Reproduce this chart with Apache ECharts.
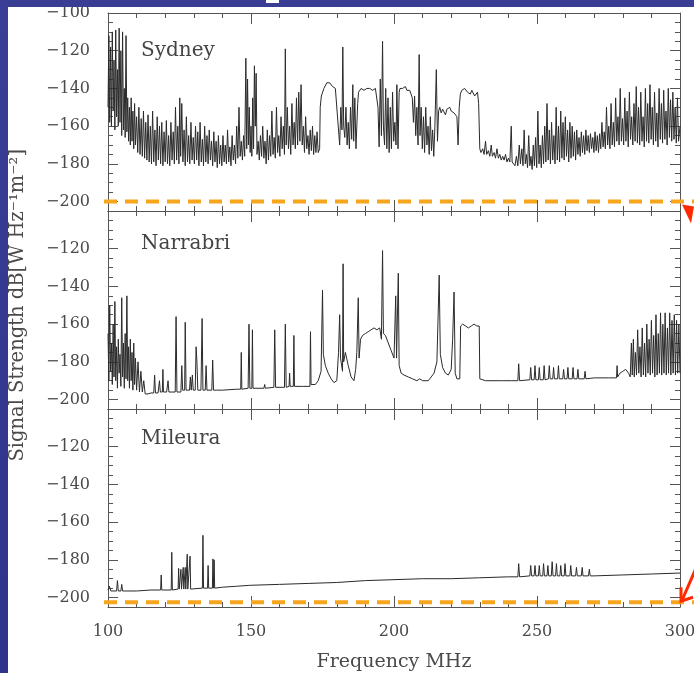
<!DOCTYPE html>
<html><head><meta charset="utf-8">
<script src="https://cdn.jsdelivr.net/npm/echarts@6/dist/echarts.min.js"></script>
<style>
html,body{margin:0;padding:0;width:694px;height:673px;overflow:hidden;background:#393d94}
#white{position:absolute;left:8px;top:7px;width:686px;height:666px;background:#fff}
#chart{position:absolute;left:0;top:0;width:694px;height:673px}
#topstrip{position:absolute;left:0;top:0;width:694px;height:7px;background:#393d94;z-index:10}
#leftstrip{position:absolute;left:0;top:0;width:8px;height:673px;background:linear-gradient(#3a3e96,#30338c);z-index:10}
#mark{position:absolute;left:266px;top:0;width:13px;height:3px;background:#fff;z-index:11}
</style></head><body>
<div id="white"></div><div id="chart"></div><div id="topstrip"></div><div id="leftstrip"></div><div id="mark"></div>
<script>
const panelNames = ['Sydney', 'Narrabri', 'Mileura'];
const xTitle = 'Frequency MHz';
const yTitle = 'Signal Strength dB[W Hz\u207B\u00B9m\u207B\u00B2]';

const sydney = [
[100.0,-150],[100.3,-112],[100.6,-158],[100.9,-118],[101.2,-160],[101.5,-110],[101.8,-152],[102.1,-125],[102.4,-162],[102.7,-109],
[103.0,-155],[103.3,-130],[103.6,-160],[103.9,-108],[104.2,-158],[104.5,-120],[104.8,-165],[105.1,-110],[105.4,-162],[105.7,-140],
[106.0,-166],[106.3,-112],[106.6,-163],[106.9,-145],[107.2,-168],[107.5,-150],[107.8,-170],[108.1,-145],[108.4,-168],[108.7,-152],
[109.0,-172],[109.3,-148],[109.6,-170],[110.0,-155],[110.4,-174],[110.8,-150],[111.2,-175],[111.6,-156],[112.0,-176],[112.4,-152],
[112.8,-177],[113.2,-158],[113.6,-178],[114.0,-154],[114.4,-179],[114.8,-160],[115.2,-180],[115.6,-152],[116.0,-179],[116.4,-162],
[116.8,-181],[117.2,-155],[117.6,-178],[118.0,-160],[118.4,-180],[118.8,-158],[119.2,-181],[119.6,-163],[120.0,-179],[120.4,-157],
[120.8,-180],[121.2,-165],[121.6,-181],[122.0,-158],[122.4,-178],[122.8,-163],[123.2,-180],[123.6,-150],[124.0,-178],[124.4,-160],
[124.8,-180],[125.1,-145],[125.4,-176],[125.8,-148],[126.2,-179],[126.6,-162],[127.0,-181],[127.4,-155],[127.8,-179],[128.2,-165],
[128.6,-180],[129.0,-158],[129.4,-178],[129.8,-166],[130.2,-180],[130.6,-160],[131.0,-178],[131.4,-163],[131.8,-181],[132.2,-158],
[132.6,-179],[133.0,-167],[133.4,-181],[133.8,-160],[134.2,-179],[134.6,-165],[135.0,-180],[135.4,-162],[135.8,-178],[136.2,-168],
[136.6,-181],[137.0,-163],[137.4,-179],[137.8,-168],[138.2,-182],[138.6,-165],[139.0,-180],[139.4,-170],[139.8,-181],[140.2,-165],
[140.6,-179],[141.0,-170],[141.4,-180],[141.8,-162],[142.2,-179],[142.6,-171],[143.0,-181],[143.4,-165],[143.8,-178],[144.2,-170],
[144.6,-180],[145.0,-160],[145.4,-177],[145.8,-150],[146.2,-176],[146.6,-168],[147.0,-178],[147.4,-165],[147.8,-176],[148.2,-124],
[148.5,-172],[148.8,-135],[149.1,-170],[149.4,-150],[149.7,-174],[150.0,-160],[150.3,-176],[150.6,-145],[150.9,-172],[151.2,-128],
[151.5,-160],[151.8,-132],[152.1,-175],[152.5,-168],[152.9,-178],[153.3,-165],[153.7,-176],[154.1,-160],[154.5,-177],[154.9,-168],
[155.3,-180],[155.7,-162],[156.1,-178],[156.5,-165],[156.9,-176],[157.3,-152],[157.7,-175],[158.1,-166],[158.5,-177],[158.9,-150],
[159.3,-174],[159.7,-165],[160.1,-176],[160.5,-155],[160.9,-172],[161.3,-160],[161.7,-175],[162.0,-119],[162.3,-170],[162.7,-150],
[163.1,-172],[163.5,-160],[163.9,-175],[164.3,-148],[164.7,-170],[165.1,-158],[165.5,-172],[165.9,-145],[166.3,-170],[166.7,-142],
[167.1,-168],[167.5,-138],[167.9,-170],[168.3,-160],[168.7,-174],[169.1,-155],[169.5,-172],[169.9,-165],[170.3,-175],[170.7,-162],
[171.1,-173],[171.5,-160],[171.9,-175],[172.3,-165],[172.7,-174],[173.1,-163],[173.5,-174],[174.0,-172],[174.2,-150],[174.6,-144],
[175.0,-143],[175.5,-140],[176.0,-139],[176.5,-137],[177.0,-136],[177.5,-137],[178.0,-138],[178.5,-139],[179.0,-140],[179.5,-140],
[180.0,-141],[180.5,-160],[181.0,-170],[181.4,-150],[181.8,-162],[182.1,-118],[182.4,-160],[182.8,-166],[183.2,-150],[183.6,-170],
[184.0,-158],[184.4,-172],[184.8,-150],[185.2,-167],[185.6,-138],[185.9,-168],[186.3,-145],[186.7,-172],[187.0,-160],[187.3,-148],
[187.6,-142],[188.0,-141],[188.5,-140],[189.0,-140],[189.5,-141],[190.0,-140],[190.5,-140],[191.0,-139],[191.5,-140],[192.0,-140],
[192.5,-141],[193.0,-140],[193.5,-140],[194.0,-141],[194.4,-150],[194.8,-171],[195.2,-135],[195.6,-165],[196.0,-115],[196.3,-160],
[196.7,-170],[197.1,-140],[197.5,-172],[197.9,-145],[198.3,-174],[198.7,-150],[199.1,-172],[199.5,-142],[199.9,-168],[200.3,-158],
[200.7,-170],[201.0,-138],[201.4,-172],[201.8,-142],[202.1,-140],[202.5,-139],[203.0,-140],[203.5,-140],[204.0,-139],[204.5,-141],
[205.0,-140],[205.5,-141],[206.0,-140],[206.4,-145],[206.8,-158],[207.2,-144],[207.6,-165],[208.0,-150],[208.4,-170],[208.8,-122],
[209.1,-165],[209.5,-150],[209.9,-172],[210.3,-155],[210.7,-174],[211.1,-150],[211.5,-170],[211.9,-160],[212.3,-175],[212.7,-155],
[213.1,-173],[213.5,-162],[213.9,-176],[214.3,-160],[214.8,-130],[215.2,-168],[215.6,-152],[216.0,-150],[216.5,-153],[217.0,-151],
[217.5,-152],[218.0,-154],[218.5,-151],[219.0,-152],[219.5,-150],[220.0,-152],[220.5,-151],[221.0,-153],[221.5,-152],[222.0,-155],
[222.4,-170],[222.8,-150],[223.2,-143],[223.7,-141],[224.2,-142],[224.7,-140],[225.2,-141],[225.7,-142],[226.2,-141],[226.7,-143],
[227.2,-141],[227.7,-142],[228.2,-144],[228.7,-143],[229.2,-142],[229.6,-148],[230.0,-172],[230.4,-174],[231.0,-172],[231.5,-175],
[232.0,-168],[232.4,-175],[233.0,-173],[233.5,-176],[234.0,-170],[234.4,-176],[235.0,-174],[235.5,-177],[236.0,-172],[236.5,-177],
[237.0,-175],[237.5,-178],[238.0,-176],[238.5,-178],[239.0,-175],[239.5,-179],[240.0,-177],[240.5,-179],[241.0,-160],[241.3,-179],
[241.8,-178],[242.3,-181],[242.8,-176],[243.3,-181],[243.8,-170],[244.2,-180],[244.7,-172],[245.1,-181],[245.5,-162],[245.9,-180],
[246.3,-175],[246.7,-182],[247.1,-165],[247.5,-181],[247.9,-176],[248.3,-183],[248.7,-170],[249.1,-181],[249.5,-166],[249.9,-182],
[250.3,-152],[250.7,-180],[251.1,-170],[251.5,-182],[251.9,-165],[252.3,-180],[252.7,-160],[253.1,-179],[253.5,-148],[253.9,-178],
[254.3,-162],[254.7,-180],[255.1,-158],[255.5,-178],[255.9,-165],[256.3,-180],[256.7,-150],[257.1,-178],[257.5,-160],[257.9,-179],
[258.3,-152],[258.7,-177],[259.1,-158],[259.5,-178],[259.9,-155],[260.3,-176],[260.7,-162],[261.1,-179],[261.5,-158],[261.9,-177],
[262.3,-160],[262.7,-176],[263.1,-163],[263.5,-178],[263.9,-162],[264.3,-175],[264.7,-166],[265.1,-176],[265.5,-163],[265.9,-174],
[266.3,-165],[266.7,-175],[267.1,-162],[267.5,-173],[267.9,-165],[268.3,-174],[268.7,-164],[269.1,-172],[269.5,-166],[269.9,-174],
[270.3,-163],[270.7,-173],[271.1,-165],[271.5,-174],[271.9,-164],[272.3,-172],[272.7,-158],[273.1,-171],[273.5,-163],[273.9,-172],
[274.3,-150],[274.7,-170],[275.1,-160],[275.5,-172],[275.9,-148],[276.3,-170],[276.7,-158],[277.1,-171],[277.5,-145],[277.9,-168],
[278.3,-155],[278.7,-170],[279.1,-140],[279.5,-168],[279.9,-156],[280.3,-170],[280.7,-145],[281.1,-168],[281.5,-152],[281.9,-171],
[282.3,-142],[282.7,-167],[283.1,-155],[283.5,-170],[283.9,-148],[284.3,-168],[284.7,-139],[285.1,-169],[285.5,-150],[285.9,-170],
[286.3,-142],[286.7,-168],[287.1,-155],[287.5,-171],[287.9,-140],[288.3,-168],[288.7,-148],[289.1,-169],[289.5,-138],[289.9,-167],
[290.3,-150],[290.7,-170],[291.1,-142],[291.5,-168],[291.9,-153],[292.3,-171],[292.7,-140],[293.1,-167],[293.5,-148],[293.9,-169],
[294.3,-141],[294.7,-167],[295.1,-152],[295.5,-170],[295.9,-140],[296.3,-166],[296.7,-146],[297.1,-168],[297.5,-142],[297.9,-167],
[298.3,-150],[298.7,-169],[299.1,-145],[299.5,-168],[300.0,-160]
];

const narrabri = [
[100.0,-165],[100.3,-190],[100.6,-150],[100.9,-185],[101.2,-170],[101.5,-192],[101.8,-160],[102.1,-188],[102.4,-148],[102.7,-190],
[103.0,-172],[103.3,-194],[103.6,-168],[103.9,-186],[104.2,-176],[104.5,-193],[104.8,-146],[105.1,-188],[105.4,-170],[105.7,-194],
[106.0,-165],[106.3,-189],[106.6,-145],[106.9,-190],[107.2,-172],[107.5,-194],[107.8,-168],[108.1,-190],[108.4,-175],[108.7,-195],
[109.0,-170],[109.3,-192],[109.6,-178],[110.0,-195],[110.5,-180],[111.0,-196],[111.5,-185],[112.0,-196],[112.5,-190],[113.0,-197],
[114.0,-197],[115.0,-196.5],[116.0,-196.5],[116.3,-187],[116.6,-196.5],[117.5,-196.5],[118.0,-190],[118.3,-196],[119.0,-196],[119.2,-184],
[119.4,-196],[120.5,-196],[121.0,-190],[121.3,-196],[123.5,-196],[123.8,-156],[124.1,-196],[125.5,-196],[125.8,-182],[126.1,-195],
[126.8,-195],[127.0,-159],[127.3,-195],[128.5,-195],[128.8,-188],[129.1,-195],[129.5,-187],[129.8,-195],[130.5,-195],[130.8,-172],
[131.1,-180],[131.4,-195],[132.5,-195],[132.9,-157],[133.2,-195],[134.0,-195],[134.3,-182],[134.6,-195],[136.3,-195],[136.6,-179],
[136.9,-195],[138.0,-195],[140.0,-195],[145.0,-194.5],[146.4,-194.5],[146.6,-175],[146.8,-194.5],[149.0,-194],[149.3,-160],[149.6,-194],
[150.3,-194],[150.5,-163],[150.7,-194],[154.5,-194],[154.8,-192],[155.0,-194],[158.0,-193.5],[158.3,-163],[158.6,-193.5],[161.7,-193.5],
[162.0,-160],[162.3,-193.5],[163.3,-193],[163.5,-186],[163.7,-193],[164.8,-193],[165.0,-166],[165.2,-193],[168.0,-193],[170.6,-193],
[170.8,-164],[171.0,-192],[172.5,-192],[173.5,-190],[174.5,-185],[175.0,-142],[175.3,-176],[176.0,-182],[177.0,-186],[178.0,-189],
[179.0,-191],[180.0,-190],[180.6,-175],[181.0,-155],[181.3,-178],[182.0,-185],[182.2,-128],[182.4,-180],[183.0,-175],[184.0,-182],
[185.0,-188],[186.0,-190],[186.6,-184],[187.0,-175],[187.5,-146],[187.8,-178],[188.3,-168],[189.0,-166],[190.0,-165],[191.0,-164],
[192.0,-163],[193.0,-162],[194.0,-163],[195.0,-162],[195.6,-168],[196.0,-121],[196.3,-165],[197.0,-166],[198.0,-170],[199.0,-174],
[200.0,-178],[200.6,-145],[200.9,-178],[201.5,-133],[201.8,-182],[202.5,-186],[203.5,-187],[205.0,-188],[206.5,-189],[208.0,-190],
[209.0,-189],[210.0,-190],[212.0,-190],[213.0,-188],[214.0,-186],[215.0,-180],[215.8,-134],[216.2,-176],[217.0,-183],[218.0,-186],
[219.0,-187],[220.0,-184],[220.5,-168],[221.0,-143],[221.4,-186],[222.0,-189],[223.0,-189],[223.3,-161],[224.0,-160],[225.0,-161],
[226.0,-162],[227.0,-161],[228.0,-160],[229.0,-161],[229.8,-161],[230.0,-189],[232.0,-190],[235.0,-190],[238.0,-190],[241.0,-190],
[243.3,-190],[243.6,-181],[243.9,-190],[247.5,-189.5],[247.8,-183],[248.1,-189.5],[249.0,-189.5],[249.3,-182],[249.6,-189.5],[250.5,-189.5],
[250.8,-183],[251.1,-189.5],[252.2,-189.5],[252.5,-182],[252.8,-189.5],[254.0,-189],[254.3,-182],[254.6,-189],[255.5,-189],[255.8,-183],
[256.1,-189],[257.2,-189],[257.5,-182],[257.8,-189],[259.0,-189],[259.3,-184],[259.6,-189],[260.5,-189],[260.8,-183],[261.1,-189],
[262.3,-189],[262.6,-183],[262.9,-189],[264.0,-189],[264.3,-184],[264.6,-189],[266.5,-189],[266.8,-185],[267.1,-189],[270.0,-188.5],
[275.0,-188.5],[277.8,-188.5],[278.0,-182],[278.2,-188],[279.0,-186],[280.0,-185],[281.0,-184],[282.0,-186],[282.6,-188],[283.0,-170],
[283.3,-187],[283.7,-168],[284.0,-188],[284.4,-175],[284.8,-187],[285.2,-163],[285.6,-186],[286.0,-172],[286.4,-188],[286.8,-162],
[287.2,-187],[287.6,-170],[288.0,-188],[288.4,-160],[288.8,-186],[289.2,-168],[289.6,-187],[290.0,-158],[290.4,-186],[290.8,-166],
[291.2,-188],[291.6,-155],[292.0,-187],[292.4,-165],[292.8,-186],[293.2,-154],[293.6,-187],[294.0,-160],[294.4,-186],[294.8,-154],
[295.2,-187],[295.6,-162],[296.0,-186],[296.4,-154],[296.8,-187],[297.2,-158],[297.6,-186],[298.0,-155],[298.4,-187],[298.8,-158],
[299.2,-186],[299.6,-160],[300.0,-186]
];

const mileura = [
[100.0,-196],[100.5,-194],[101.0,-196.5],[103.0,-196.5],[103.3,-191],[103.6,-196.5],[104.5,-196.5],[104.8,-193],[105.1,-196.5],[110.0,-196.5],
[115.0,-196],[118.4,-196],[118.6,-188],[118.8,-196],[122.1,-196],[122.3,-176],[122.5,-196],[124.5,-195.5],[124.7,-184.5],[124.9,-195.5],
[125.3,-195.5],[125.5,-185],[125.7,-195.5],[126.1,-195.5],[126.3,-184],[126.5,-195.5],[126.8,-195.5],[127.0,-184],[127.2,-195.5],[127.5,-195.5],
[127.7,-177],[127.9,-195.5],[128.5,-195.5],[128.7,-178],[128.9,-195.5],[133.0,-195],[133.2,-167],[133.4,-195],[134.8,-195],[135.0,-183],
[135.2,-195],[136.5,-195],[136.7,-179.5],[136.9,-195],[137.1,-180],[137.3,-195],[140.0,-194.5],[145.0,-194],[149.5,-193.5],[149.7,-192.5],
[150.0,-193.5],[160.0,-193],[170.0,-192.5],[180.0,-192],[190.0,-191],[200.0,-190.5],[210.0,-190],[220.0,-190],[230.0,-189.5],[240.0,-189],
[243.3,-189],[243.6,-182],[243.9,-189],[247.5,-188.5],[247.8,-183],[248.1,-188.5],[249.0,-188.5],[249.3,-183],[249.6,-188.5],[250.5,-188.5],
[250.8,-183],[251.1,-188.5],[252.0,-188.5],[252.3,-182],[252.6,-188.5],[253.5,-188.5],[253.8,-183],[254.1,-188.5],[255.0,-188.5],[255.3,-181],
[255.6,-188.5],[256.5,-188.5],[256.8,-182],[257.1,-188.5],[258.0,-188.5],[258.3,-183],[258.6,-188.5],[259.5,-188.5],[259.8,-182],[260.1,-188.5],
[261.5,-188.5],[261.8,-183],[262.1,-188.5],[263.5,-188.5],[263.8,-184],[264.1,-188.5],[265.5,-188.5],[265.8,-184],[266.1,-188.5],[268.0,-188.5],
[268.3,-185],[268.6,-188.5],[270.0,-188.5],[280.0,-188],[290.0,-187.5],[300.0,-187]
];

const panels = [sydney, narrabri, mileura];

const FONT = 'DejaVu Serif';
const AX = '#555';
const TXT = '#4a4a4a';
const L = 108, W = 572, H = 198;
const tops = [13, 211, 409];
const HT = H * 100 / 105;

const grid = [], xAxis = [], yAxis = [], series = [], title = [];
const nameTops = [41, 234, 429];

for (let g = 0; g < 3; g++) {
  grid.push({left: L, width: W, top: tops[g], height: H, containLabel: false, outerBoundsMode: 'none'});
  const xBase = {
    gridIndex: g, type: 'value', min: 100, max: 300, interval: 50,
    axisLine: {show: true, onZero: false, lineStyle: {color: AX, width: 1}},
    axisTick: {show: true, inside: true, length: 11, lineStyle: {color: AX, width: 1}},
    minorTick: {show: true, splitNumber: 5, length: 5, lineStyle: {color: AX, width: 1}},
    splitLine: {show: false}, minorSplitLine: {show: false}
  };
  xAxis.push(Object.assign({}, xBase, {
    position: 'bottom',
    axisLabel: {show: g === 2, margin: 17, color: TXT, fontFamily: FONT, fontSize: 16,
      showMinLabel: true, showMaxLabel: true},
    name: g === 2 ? xTitle : '', nameLocation: 'middle', nameGap: 46, nameMoveOverlap: false,
    nameTextStyle: {color: TXT, fontFamily: FONT, fontSize: 19}
  }));
  xAxis.push(Object.assign({}, xBase, {position: 'top', axisLabel: {show: false}}));
  const yBase = {
    gridIndex: g, type: 'value', min: -205, max: -100,
    axisLine: {show: true, onZero: false, lineStyle: {color: AX, width: 1}},
    axisTick: {show: false}, axisLabel: {show: false}, splitLine: {show: false}
  };
  yAxis.push(Object.assign({}, yBase, {position: 'left'}));
  yAxis.push(Object.assign({}, yBase, {position: 'right'}));
  series.push({
    type: 'line', xAxisIndex: 2 * g, yAxisIndex: 2 * g, data: panels[g],
    showSymbol: false, symbol: 'none', silent: true, clip: true, smooth: false,
    lineStyle: {color: '#2a2a2a', width: 1}
  });
  title.push({text: panelNames[g], left: 141, top: nameTops[g], padding: 0,
    textStyle: {fontFamily: FONT, fontSize: 20, fontWeight: 'normal', color: '#444'}});
}
for (let k = 0; k < 3; k++) {
  const gi = 3 + k;
  grid.push({left: L, width: W, top: tops[k], height: HT, containLabel: false, outerBoundsMode: 'none'});
  xAxis.push({gridIndex: gi, type: 'value', min: 100, max: 300, show: false});
  const tBase = {
    gridIndex: gi, type: 'value', min: -200, max: -100, interval: 20,
    axisLine: {show: false},
    axisTick: {show: true, inside: true, length: 10, lineStyle: {color: AX, width: 1}},
    minorTick: {show: true, splitNumber: 4, length: 5, lineStyle: {color: AX, width: 1}},
    splitLine: {show: false}, minorSplitLine: {show: false}
  };
  yAxis.push(Object.assign({}, tBase, {
    position: 'left',
    axisLabel: {show: true, margin: 18, color: TXT, fontFamily: FONT, fontSize: 16,
      showMinLabel: true, showMaxLabel: true,
      formatter: v => (v === -100 && k !== 0) ? '' : '\u2212' + Math.abs(v)},
    name: k === 1 ? yTitle : '', nameLocation: 'middle', nameGap: 80, nameRotate: 90, nameMoveOverlap: false,
    nameTextStyle: {color: TXT, fontFamily: FONT, fontSize: 19.5}
  }));
  yAxis.push(Object.assign({}, tBase, {position: 'right', axisLabel: {show: false}}));
}

const chart = echarts.init(document.getElementById('chart'), null, {renderer: 'canvas'});
chart.setOption({
  backgroundColor: 'transparent',
  animation: false,
  title, grid, xAxis, yAxis, series
});

const ySyd = chart.convertToPixel({yAxisIndex: 0}, -200);
const yMil = chart.convertToPixel({yAxisIndex: 4}, -202.5);
const ORANGE = '#f7a51c', RED = '#ff2a00';
chart.setOption({
  graphic: [
    {type: 'line', z: 100, shape: {x1: 104, y1: ySyd, x2: 694, y2: ySyd}, style: {stroke: ORANGE, lineWidth: 4, lineDash: [13, 8]}},
    {type: 'line', z: 100, shape: {x1: 104, y1: yMil, x2: 694, y2: yMil}, style: {stroke: ORANGE, lineWidth: 4, lineDash: [13, 8]}},
    {type: 'polygon', z: 101, shape: {points: [[682, ySyd + 3], [694, ySyd + 5], [691, ySyd + 22]]}, style: {fill: RED}},
    {type: 'polyline', z: 101, shape: {points: [[696, yMil - 34], [682, yMil - 2]]}, style: {stroke: RED, lineWidth: 3, fill: null}},
    {type: 'polyline', z: 101, shape: {points: [[681, yMil - 15], [681, yMil - 1], [693, yMil - 5]]}, style: {stroke: RED, lineWidth: 3, fill: null}}
  ]
});
</script>
</body></html>
